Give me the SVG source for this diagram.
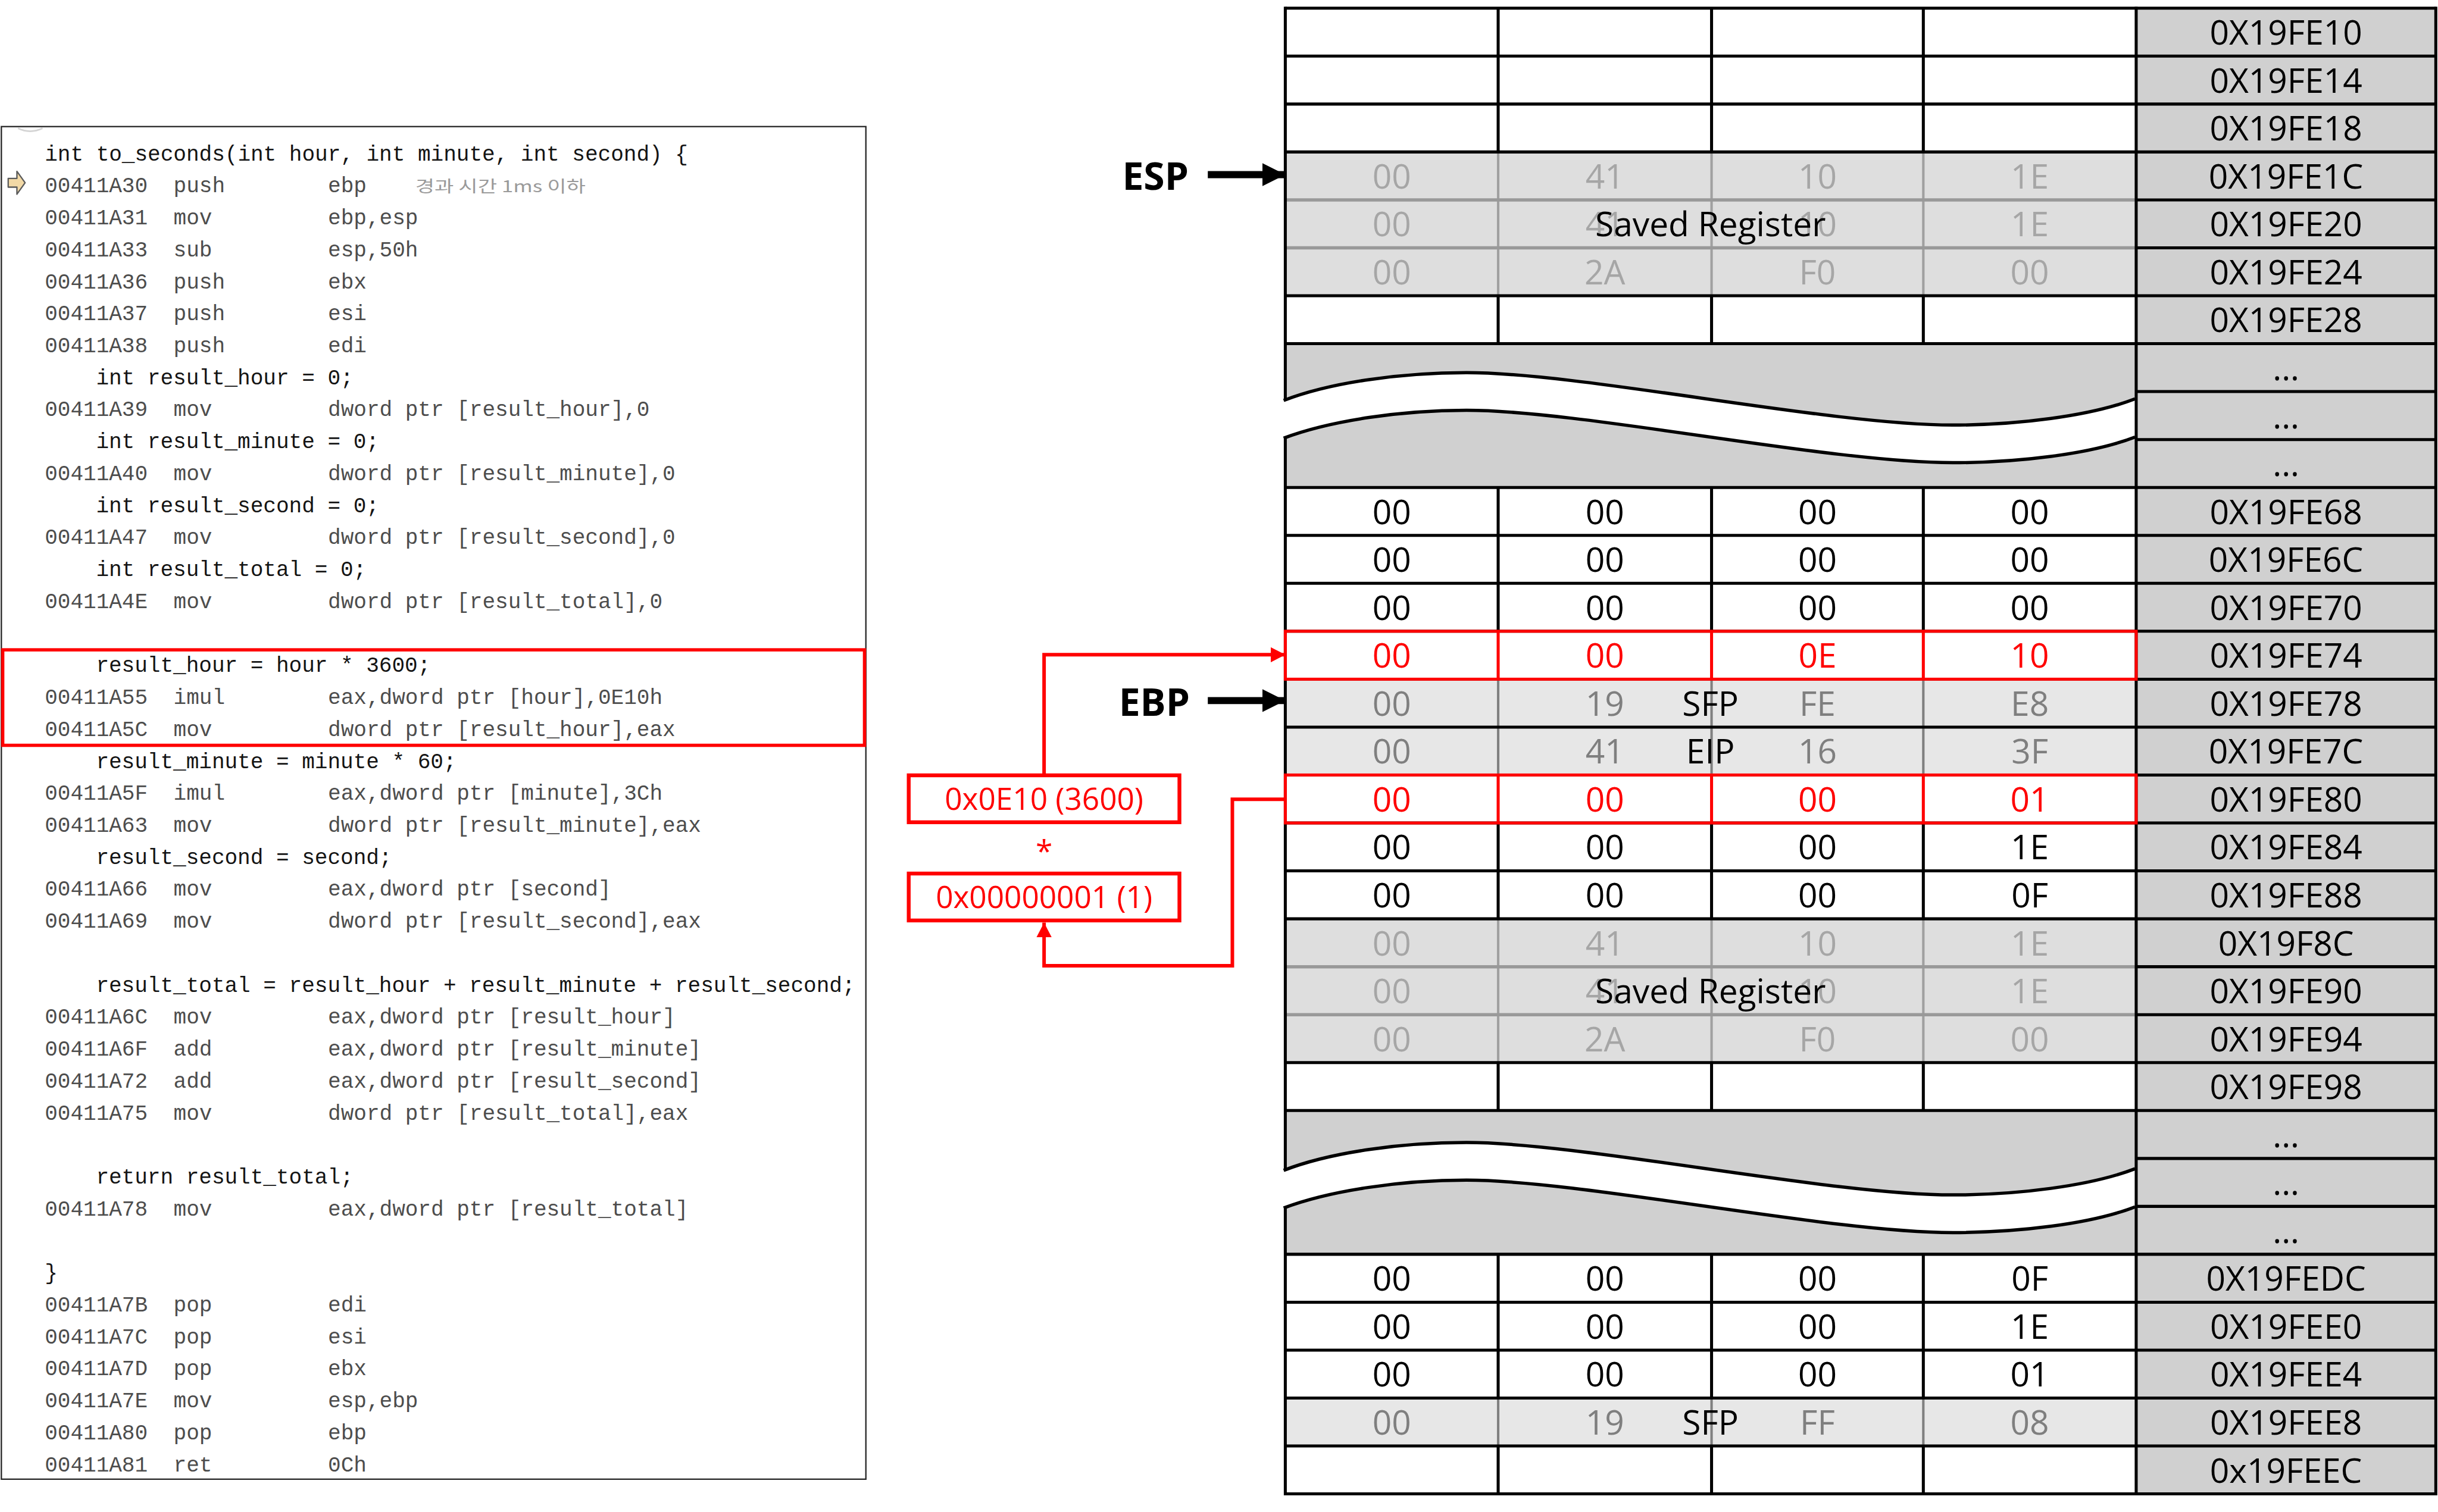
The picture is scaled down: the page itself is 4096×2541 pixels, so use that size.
<svg xmlns="http://www.w3.org/2000/svg" xmlns:xlink="http://www.w3.org/1999/xlink" width="4096" height="2541" viewBox="0 0 4096 2541">
<style>
.cell{font-family:"Open Sans","Liberation Sans",sans-serif;font-size:62px;text-anchor:middle;fill:#000}
.g1{fill:#a6a6a6}
.g2{fill:#7f7f7f}
.rd{fill:#ff0000}
.lbl{font-family:"Open Sans","Liberation Sans",sans-serif;font-size:62px;text-anchor:middle;fill:#000}
.code{font-family:"Liberation Mono","DejaVu Sans Mono",monospace;font-size:39.3px}
.src{fill:#141414}
.asm{fill:#4d4d4d}
.reg{font-family:"Open Sans","Liberation Sans",sans-serif;font-size:70px;font-weight:700;text-anchor:middle;fill:#000}
.rtxt{font-family:"Open Sans","Liberation Sans",sans-serif;font-size:56px;text-anchor:middle;fill:#ff0000}
.blk{stroke:#000;stroke-width:5.5;fill:none}
.gl1{stroke:#a0a0a0;stroke-width:4.5;fill:none}
.gh1{stroke:#999;stroke-width:6;fill:none}
.gl2{stroke:#808080;stroke-width:4.5;fill:none}
.redbox{stroke:#ff0000;stroke-width:5.5;fill:none}
.conn{stroke:#ff0000;stroke-width:6.5;fill:none}
.parrow{stroke:#000;stroke-width:13;fill:none}
</style>
<defs>
<marker id="blackHead" viewBox="0 0 42 42" refX="42" refY="21" markerWidth="42" markerHeight="42" markerUnits="userSpaceOnUse" orient="auto"><path d="M0,0 L42,21 L0,42 Z" fill="#000"/></marker>
<marker id="redHead" viewBox="0 0 27 28" refX="27" refY="14" markerWidth="27" markerHeight="28" markerUnits="userSpaceOnUse" orient="auto"><path d="M0,0 L27,14 L0,28 Z" fill="#ff0000"/></marker>
<g id="breakBand">
<path d="M2350,735 C2440,700 2570,683 2687,683 C2900,683 3350,779 3578,779 C3695,779 3829,763 3911,731 L3911,801 C3829,833 3695,848 3578,848 C3350,848 2900,752 2687,752 C2570,752 2440,770 2350,804 Z" fill="#fff"/>
<path d="M2352,734 C2440,700 2570,683 2687,683 C2900,683 3350,779 3578,779 C3695,779 3829,763 3912,731 M3912,801 C3829,833 3695,848 3578,848 C3350,848 2900,752 2687,752 C2570,752 2440,770 2352,803" stroke="#000" stroke-width="6" fill="none"/>
</g>
</defs>
<rect x="0" y="0" width="4096" height="2541" fill="#fff"/>
<g transform="scale(0.916946)">

<!-- code panel -->
<g id="code-panel">
<rect x="2.5" y="232" width="1584" height="2479" fill="#fff" stroke="#262626" stroke-width="2.5"/>
<path d="M33,235 Q55,246 78,235" stroke="#d4d4d4" stroke-width="3" fill="none"/>
<polygon points="15,327 31,327 31,314 46,335 31,356 31,343 15,343" fill="#f2d9a6" stroke="#5a5a5a" stroke-width="2.5" stroke-linejoin="round"/>
<g class="code">
<text class="src" x="82" y="294">int to_seconds(int hour, int minute, int second) {</text>
<text class="asm" y="352.6"><tspan x="82">00411A30</tspan><tspan x="318">push</tspan><tspan x="601">ebp</tspan></text>
<text x="761" y="352.6" font-family="'Noto Sans CJK KR','Noto Sans CJK SC',sans-serif" font-size="30" fill="#9a9a9a" textLength="312" lengthAdjust="spacingAndGlyphs">경과 시간 1ms 이하</text>
<text class="asm" y="411.2"><tspan x="82">00411A31</tspan><tspan x="318">mov</tspan><tspan x="601">ebp,esp</tspan></text>
<text class="asm" y="469.8"><tspan x="82">00411A33</tspan><tspan x="318">sub</tspan><tspan x="601">esp,50h</tspan></text>
<text class="asm" y="528.4"><tspan x="82">00411A36</tspan><tspan x="318">push</tspan><tspan x="601">ebx</tspan></text>
<text class="asm" y="587"><tspan x="82">00411A37</tspan><tspan x="318">push</tspan><tspan x="601">esi</tspan></text>
<text class="asm" y="645.6"><tspan x="82">00411A38</tspan><tspan x="318">push</tspan><tspan x="601">edi</tspan></text>
<text class="src" x="176" y="704.2">int result_hour = 0;</text>
<text class="asm" y="762.8"><tspan x="82">00411A39</tspan><tspan x="318">mov</tspan><tspan x="601">dword ptr [result_hour],0</tspan></text>
<text class="src" x="176" y="821.4">int result_minute = 0;</text>
<text class="asm" y="880"><tspan x="82">00411A40</tspan><tspan x="318">mov</tspan><tspan x="601">dword ptr [result_minute],0</tspan></text>
<text class="src" x="176" y="938.6">int result_second = 0;</text>
<text class="asm" y="997.2"><tspan x="82">00411A47</tspan><tspan x="318">mov</tspan><tspan x="601">dword ptr [result_second],0</tspan></text>
<text class="src" x="176" y="1055.8">int result_total = 0;</text>
<text class="asm" y="1114.4"><tspan x="82">00411A4E</tspan><tspan x="318">mov</tspan><tspan x="601">dword ptr [result_total],0</tspan></text>
<text class="src" x="176" y="1231.6">result_hour = hour * 3600;</text>
<text class="asm" y="1290.2"><tspan x="82">00411A55</tspan><tspan x="318">imul</tspan><tspan x="601">eax,dword ptr [hour],0E10h</tspan></text>
<text class="asm" y="1348.8"><tspan x="82">00411A5C</tspan><tspan x="318">mov</tspan><tspan x="601">dword ptr [result_hour],eax</tspan></text>
<text class="src" x="176" y="1407.4">result_minute = minute * 60;</text>
<text class="asm" y="1466"><tspan x="82">00411A5F</tspan><tspan x="318">imul</tspan><tspan x="601">eax,dword ptr [minute],3Ch</tspan></text>
<text class="asm" y="1524.6"><tspan x="82">00411A63</tspan><tspan x="318">mov</tspan><tspan x="601">dword ptr [result_minute],eax</tspan></text>
<text class="src" x="176" y="1583.2">result_second = second;</text>
<text class="asm" y="1641.8"><tspan x="82">00411A66</tspan><tspan x="318">mov</tspan><tspan x="601">eax,dword ptr [second]</tspan></text>
<text class="asm" y="1700.4"><tspan x="82">00411A69</tspan><tspan x="318">mov</tspan><tspan x="601">dword ptr [result_second],eax</tspan></text>
<text class="src" x="176" y="1817.6">result_total = result_hour + result_minute + result_second;</text>
<text class="asm" y="1876.2"><tspan x="82">00411A6C</tspan><tspan x="318">mov</tspan><tspan x="601">eax,dword ptr [result_hour]</tspan></text>
<text class="asm" y="1934.8"><tspan x="82">00411A6F</tspan><tspan x="318">add</tspan><tspan x="601">eax,dword ptr [result_minute]</tspan></text>
<text class="asm" y="1993.4"><tspan x="82">00411A72</tspan><tspan x="318">add</tspan><tspan x="601">eax,dword ptr [result_second]</tspan></text>
<text class="asm" y="2052"><tspan x="82">00411A75</tspan><tspan x="318">mov</tspan><tspan x="601">dword ptr [result_total],eax</tspan></text>
<text class="src" x="176" y="2169.2">return result_total;</text>
<text class="asm" y="2227.8"><tspan x="82">00411A78</tspan><tspan x="318">mov</tspan><tspan x="601">eax,dword ptr [result_total]</tspan></text>
<text class="src" x="82" y="2345">}</text>
<text class="asm" y="2403.6"><tspan x="82">00411A7B</tspan><tspan x="318">pop</tspan><tspan x="601">edi</tspan></text>
<text class="asm" y="2462.2"><tspan x="82">00411A7C</tspan><tspan x="318">pop</tspan><tspan x="601">esi</tspan></text>
<text class="asm" y="2520.8"><tspan x="82">00411A7D</tspan><tspan x="318">pop</tspan><tspan x="601">ebx</tspan></text>
<text class="asm" y="2579.4"><tspan x="82">00411A7E</tspan><tspan x="318">mov</tspan><tspan x="601">esp,ebp</tspan></text>
<text class="asm" y="2638"><tspan x="82">00411A80</tspan><tspan x="318">pop</tspan><tspan x="601">ebp</tspan></text>
<text class="asm" y="2696.6"><tspan x="82">00411A81</tspan><tspan x="318">ret</tspan><tspan x="601">0Ch</tspan></text>
</g>
</g>
<g id="code-highlight">
<rect x="5" y="1191" width="1579" height="175" fill="none" stroke="#ff0000" stroke-width="6"/>
</g>

<!-- stack table -->
<g id="stack-table">
<g id="table-fills">
<rect x="3914" y="15" width="549" height="2723" fill="#d0d0d0"/>
<rect x="2355" y="278.5" width="1559" height="263.5" fill="#dedede"/>
<rect x="2355" y="1684" width="1559" height="263.5" fill="#dedede"/>
<rect x="2355" y="1244.8" width="1559" height="175.6" fill="#e7e7e7"/>
<rect x="2355" y="2562.4" width="1559" height="87.8" fill="#e7e7e7"/>
<rect x="2355" y="629.9" width="1559" height="263.5" fill="#d0d0d0"/>
<rect x="2355" y="2035.3" width="1559" height="263.5" fill="#d0d0d0"/>
</g>
<g id="table-grid">
<path class="gl1" d="M2745,278.5V542M3136,278.5V542M3524,278.5V542M2745,1684V1947.5M3136,1684V1947.5M3524,1684V1947.5"/>
<path class="gl2" d="M2745,1244.8V1420.4M3136,1244.8V1420.4M3524,1244.8V1420.4M2745,2562.4V2650.2M3136,2562.4V2650.2M3524,2562.4V2650.2"/>
<path class="gh1" d="M2355,366.4H3914M2355,454.2H3914M2355,1771.8H3914M2355,1859.6H3914"/>
<path class="blk" d="M2745,15V278.5M3136,15V278.5M3524,15V278.5M2745,542V629.9M3136,542V629.9M3524,542V629.9M2745,893.4V1156.9M3136,893.4V1156.9M3524,893.4V1156.9M2745,1508.3V1684M3136,1508.3V1684M3524,1508.3V1684M2745,1947.5V2035.3M3136,1947.5V2035.3M3524,1947.5V2035.3M2745,2298.8V2562.4M3136,2298.8V2562.4M3524,2298.8V2562.4M2745,2650.2V2738M3136,2650.2V2738M3524,2650.2V2738"/>
<path class="blk" d="M2355,15H4463M2355,102.8H4463M2355,190.7H4463M2355,278.5H4463M2355,542H4463M2355,629.9H4463M2355,893.4H4463M2355,981.2H4463M2355,1069.1H4463M2355,1156.9H4463M2355,1244.8H4463M2355,1332.6H4463M2355,1420.4H4463M2355,1508.3H4463M2355,1596.1H4463M2355,1684H4463M2355,1947.5H4463M2355,2035.3H4463M2355,2298.8H4463M2355,2386.7H4463M2355,2474.5H4463M2355,2562.4H4463M2355,2650.2H4463M2355,2738H4463"/>
<path class="blk" d="M3914,366.4H4463M3914,454.2H4463M3914,717.7H4463M3914,805.6H4463M3914,1771.8H4463M3914,1859.6H4463M3914,2123.2H4463M3914,2211H4463"/>
<path class="blk" d="M2355,12.3V2740.7M3914,12.3V2740.7M4463,12.3V2740.7"/>
</g>
<g id="break-1"><use xlink:href="#breakBand" href="#breakBand"/></g>
<g id="break-2"><use xlink:href="#breakBand" href="#breakBand" transform="translate(0,1411)"/></g>
<g id="red-rows">
<rect class="redbox" x="2355" y="1156.9" width="1559" height="87.9"/>
<path class="redbox" d="M2745,1156.9V1244.8M3136,1156.9V1244.8M3524,1156.9V1244.8"/>
<rect class="redbox" x="2355" y="1420.4" width="1559" height="87.9"/>
<path class="redbox" d="M2745,1420.4V1508.3M3136,1420.4V1508.3M3524,1420.4V1508.3"/>
</g>

<g class="cell">
<g id="row-FE10"><text x="4188.5" y="82">0X19FE10</text></g>
<g id="row-FE14"><text x="4188.5" y="169.8">0X19FE14</text></g>
<g id="row-FE18"><text x="4188.5" y="257.7">0X19FE18</text></g>
<g id="row-FE1C"><text class="g1" x="2550" y="345.5">00</text><text class="g1" x="2940.5" y="345.5">41</text><text class="g1" x="3330" y="345.5">10</text><text class="g1" x="3719" y="345.5">1E</text><text x="4188.5" y="345.5">0X19FE1C</text></g>
<g id="row-FE20"><text class="g1" x="2550" y="433.4">00</text><text class="g1" x="2940.5" y="433.4">41</text><text class="g1" x="3330" y="433.4">10</text><text class="g1" x="3719" y="433.4">1E</text><text x="4188.5" y="433.4">0X19FE20</text><text x="3134" y="433.4">Saved Register</text></g>
<g id="row-FE24"><text class="g1" x="2550" y="521.2">00</text><text class="g1" x="2940.5" y="521.2">2A</text><text class="g1" x="3330" y="521.2">F0</text><text class="g1" x="3719" y="521.2">00</text><text x="4188.5" y="521.2">0X19FE24</text></g>
<g id="row-FE28"><text x="4188.5" y="609">0X19FE28</text></g>
<g id="gap-1"><text x="4188.5" y="696.9">...</text><text x="4188.5" y="784.7">...</text><text x="4188.5" y="872.6">...</text></g>
<g id="row-FE68"><text x="2550" y="960.4">00</text><text x="2940.5" y="960.4">00</text><text x="3330" y="960.4">00</text><text x="3719" y="960.4">00</text><text x="4188.5" y="960.4">0X19FE68</text></g>
<g id="row-FE6C"><text x="2550" y="1048.2">00</text><text x="2940.5" y="1048.2">00</text><text x="3330" y="1048.2">00</text><text x="3719" y="1048.2">00</text><text x="4188.5" y="1048.2">0X19FE6C</text></g>
<g id="row-FE70"><text x="2550" y="1136.1">00</text><text x="2940.5" y="1136.1">00</text><text x="3330" y="1136.1">00</text><text x="3719" y="1136.1">00</text><text x="4188.5" y="1136.1">0X19FE70</text></g>
<g id="row-FE74"><text class="rd" x="2550" y="1223.9">00</text><text class="rd" x="2940.5" y="1223.9">00</text><text class="rd" x="3330" y="1223.9">0E</text><text class="rd" x="3719" y="1223.9">10</text><text x="4188.5" y="1223.9">0X19FE74</text></g>
<g id="row-FE78"><text class="g2" x="2550" y="1311.8">00</text><text class="g2" x="2940.5" y="1311.8">19</text><text class="g2" x="3330" y="1311.8">FE</text><text class="g2" x="3719" y="1311.8">E8</text><text x="3134" y="1311.8">SFP</text><text x="4188.5" y="1311.8">0X19FE78</text></g>
<g id="row-FE7C"><text class="g2" x="2550" y="1399.6">00</text><text class="g2" x="2940.5" y="1399.6">41</text><text class="g2" x="3330" y="1399.6">16</text><text class="g2" x="3719" y="1399.6">3F</text><text x="3134" y="1399.6">EIP</text><text x="4188.5" y="1399.6">0X19FE7C</text></g>
<g id="row-FE80"><text class="rd" x="2550" y="1487.4">00</text><text class="rd" x="2940.5" y="1487.4">00</text><text class="rd" x="3330" y="1487.4">00</text><text class="rd" x="3719" y="1487.4">01</text><text x="4188.5" y="1487.4">0X19FE80</text></g>
<g id="row-FE84"><text x="2550" y="1575.3">00</text><text x="2940.5" y="1575.3">00</text><text x="3330" y="1575.3">00</text><text x="3719" y="1575.3">1E</text><text x="4188.5" y="1575.3">0X19FE84</text></g>
<g id="row-FE88"><text x="2550" y="1663.1">00</text><text x="2940.5" y="1663.1">00</text><text x="3330" y="1663.1">00</text><text x="3719" y="1663.1">0F</text><text x="4188.5" y="1663.1">0X19FE88</text></g>
<g id="row-F8C"><text class="g1" x="2550" y="1751">00</text><text class="g1" x="2940.5" y="1751">41</text><text class="g1" x="3330" y="1751">10</text><text class="g1" x="3719" y="1751">1E</text><text x="4188.5" y="1751">0X19F8C</text></g>
<g id="row-FE90"><text class="g1" x="2550" y="1838.8">00</text><text class="g1" x="2940.5" y="1838.8">41</text><text class="g1" x="3330" y="1838.8">10</text><text class="g1" x="3719" y="1838.8">1E</text><text x="4188.5" y="1838.8">0X19FE90</text><text x="3134" y="1838.8">Saved Register</text></g>
<g id="row-FE94"><text class="g1" x="2550" y="1926.6">00</text><text class="g1" x="2940.5" y="1926.6">2A</text><text class="g1" x="3330" y="1926.6">F0</text><text class="g1" x="3719" y="1926.6">00</text><text x="4188.5" y="1926.6">0X19FE94</text></g>
<g id="row-FE98"><text x="4188.5" y="2014.5">0X19FE98</text></g>
<g id="gap-2"><text x="4188.5" y="2102.3">...</text><text x="4188.5" y="2190.2">...</text><text x="4188.5" y="2278">...</text></g>
<g id="row-FEDC"><text x="2550" y="2365.8">00</text><text x="2940.5" y="2365.8">00</text><text x="3330" y="2365.8">00</text><text x="3719" y="2365.8">0F</text><text x="4188.5" y="2365.8">0X19FEDC</text></g>
<g id="row-FEE0"><text x="2550" y="2453.7">00</text><text x="2940.5" y="2453.7">00</text><text x="3330" y="2453.7">00</text><text x="3719" y="2453.7">1E</text><text x="4188.5" y="2453.7">0X19FEE0</text></g>
<g id="row-FEE4"><text x="2550" y="2541.5">00</text><text x="2940.5" y="2541.5">00</text><text x="3330" y="2541.5">00</text><text x="3719" y="2541.5">01</text><text x="4188.5" y="2541.5">0X19FEE4</text></g>
<g id="row-FEE8"><text class="g2" x="2550" y="2629.4">00</text><text class="g2" x="2940.5" y="2629.4">19</text><text class="g2" x="3330" y="2629.4">FF</text><text class="g2" x="3719" y="2629.4">08</text><text x="3134" y="2629.4">SFP</text><text x="4188.5" y="2629.4">0X19FEE8</text></g>
<g id="row-FEEC"><text x="4188.5" y="2717.2">0x19FEEC</text></g>
</g>
</g>

<!-- register pointers -->
<g id="esp-label">
<text class="reg" x="2117" y="348">ESP</text>
<path class="parrow" d="M2213,320H2355" marker-end="url(#blackHead)"/>
</g>
<g id="ebp-label">
<text class="reg" x="2115" y="1312">EBP</text>
<path class="parrow" d="M2213,1284H2355" marker-end="url(#blackHead)"/>
</g>

<!-- value boxes -->
<g id="box-3600">
<rect x="1665" y="1421" width="496" height="86" fill="#fff" stroke="#ff0000" stroke-width="7"/>
<text class="rtxt" x="1913" y="1484">0x0E10 (3600)</text>
</g>
<g id="mul-sign"><text class="rtxt" x="1913" y="1580">*</text></g>
<g id="box-1">
<rect x="1665" y="1601" width="496" height="86" fill="#fff" stroke="#ff0000" stroke-width="7"/>
<text class="rtxt" x="1913" y="1664">0x00000001 (1)</text>
</g>

<g id="connectors">
<path class="conn" d="M1913,1418V1200H2355" marker-end="url(#redHead)"/>
<path class="conn" d="M2355,1465H2258V1770H1913V1691" marker-end="url(#redHead)"/>
</g>
</g>
</svg>
